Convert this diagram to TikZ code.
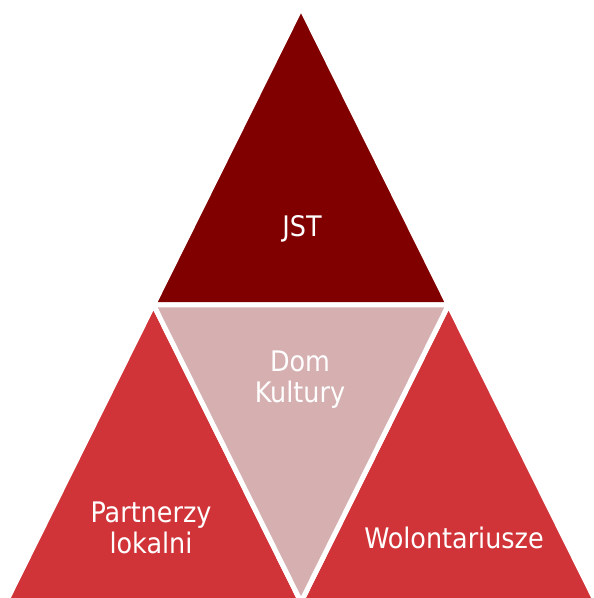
\documentclass[tikz,border=0pt]{standalone}
\usepackage{fontspec}
\setmainfont{DejaVu Sans Condensed}
\usetikzlibrary{positioning}
\definecolor{topred}{RGB}{128,0,0}
\definecolor{sidered}{RGB}{209,52,56}
\definecolor{midpink}{RGB}{214,176,176}

\begin{document}
\begin{tikzpicture}[x=1pt, y=-1pt,
	tri/.style={draw=white, line width=5pt, line join=miter},
	lbl/.style={text=white, font=\fontsize{28.3}{31}\selectfont, align=center, inner sep=0pt}]
		\useasboundingbox (0,0) rectangle (594,598);
		\coordinate (apex) at (301,7.5);
		\coordinate (ml) at (153.5,304.75);
		\coordinate (mr) at (448.5,304.75);
		\coordinate (bl) at (6,602);
		\coordinate (bm) at (301,602);
		\coordinate (br) at (596,602);

		\filldraw[tri, fill=topred] (apex) -- (mr) -- (ml) -- cycle;
		\filldraw[tri, fill=sidered] (ml) -- (bm) -- (bl) -- cycle;
		\filldraw[tri, fill=sidered] (mr) -- (br) -- (bm) -- cycle;
		\filldraw[tri, fill=midpink] (ml) -- (mr) -- (bm) -- cycle;

		\node[lbl] (jst) at (302,229) {JST};
		\node[lbl] (dom) at (300,380) {Dom\\Kultury};
		\node[lbl] (partn) at (151,528) {Partnerzy\\lokalni};
		\node[lbl] (wolont) at (454,538) {Wolontariusze};
\end{tikzpicture}
\end{document}
